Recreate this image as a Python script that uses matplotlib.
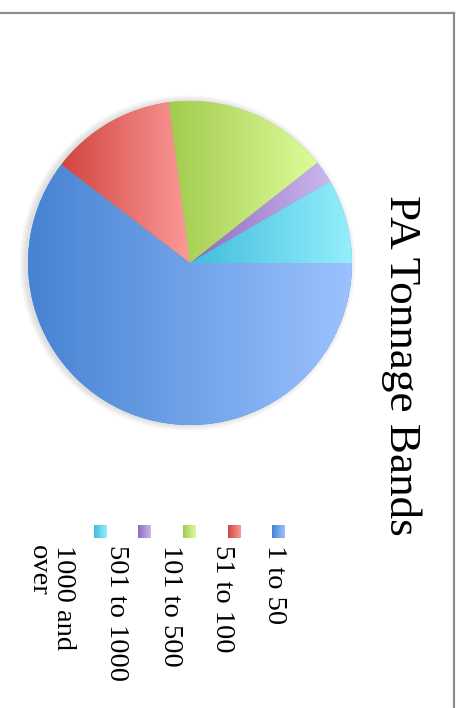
import numpy as np
import matplotlib
matplotlib.use('Agg')
import matplotlib.pyplot as plt
from matplotlib.colors import LinearSegmentedColormap
from matplotlib.patches import Circle

# PA tonnage bands, share of total (%)
bands = ['1 to 50', '51 to 100', '101 to 500', '501 to 1000', '1000 and\nover']
shares = [60.4, 12.5, 16.5, 2.2, 8.4]
# gradient ends (dark side, light side) for each slice
dark = ['#4683d2', '#d2443f', '#a2cb4e', '#8d6bbd', '#40bddb']
light = ['#9cc2ff', '#fb9a98', '#ddfc9b', '#cbb7ee', '#95eefc']

plt.rcParams['font.family'] = ['Liberation Serif', 'DejaVu Serif']

W, H = 462, 708
fig = plt.figure(figsize=(W / 100, H / 100), dpi=100)
ax = fig.add_axes([0, 0, 1, 1])

cx, cy, r = 190, 445, 162

## soft shadow behind the pie
for i in range(8):
    ax.add_patch(Circle((cx - 2.5, cy), r + 0.5 + i * 0.8, color='black',
                        alpha=0.016, lw=0, zorder=0))

wedges, _ = ax.pie(shares, startangle=0, counterclock=False, center=(cx, cy),
                   radius=r, colors=dark, wedgeprops=dict(lw=0))

## gradient fill per slice, left (dark) to right (light)
grad = np.linspace(0, 1, 256).reshape(1, -1)
for w, c0, c1 in zip(wedges, dark, light):
    t = np.radians(np.linspace(w.theta1, w.theta2, 200))
    xs = np.concatenate([[cx], cx + r * np.cos(t)])
    cmap = LinearSegmentedColormap.from_list('g', [c0, c1])
    im = ax.imshow(grad, cmap=cmap, aspect='auto', interpolation='bilinear',
                   extent=[xs.min(), xs.max(), cy - r, cy + r], zorder=2)
    im.set_clip_path(w)

## legend (rotated like the rest of the chart)
marker_x = [278, 234, 189, 144, 100]
label_x = [275, 223, 170, 117, 51]
for mx, lx, lab, c0, c1 in zip(marker_x, label_x, bands, dark, light):
    cmap = LinearSegmentedColormap.from_list('g', [c0, c1])
    ax.imshow(grad, cmap=cmap, aspect='auto', interpolation='bilinear',
              extent=[mx - 6.5, mx + 6.5, H - 538.5, H - 525.5], zorder=2)
    ax.text(lx, H - 545, lab, rotation=270, rotation_mode='anchor',
            ha='left', va='center', fontsize=20.5, linespacing=1.0)

ax.text(401, H - 365, 'PA Tonnage Bands', rotation=270, rotation_mode='anchor',
        ha='center', va='center', fontsize=32.5)

## chart frame
ax.plot([0, 454], [H - 13, H - 13], color='#8c8c8c', lw=1.6)
ax.plot([454, 454], [H - 13, 0], color='#8c8c8c', lw=1.6)

ax.set_xlim(0, W)
ax.set_ylim(0, H)
ax.set_aspect('auto')
ax.axis('off')

fig.savefig('out.png', dpi=100)
